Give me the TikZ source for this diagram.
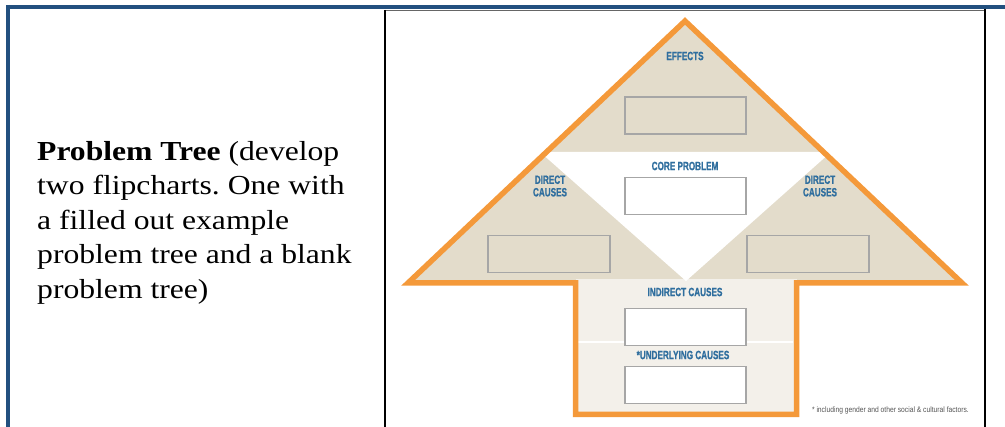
\documentclass[tikz,border=0pt]{standalone}
\usepackage{fontspec}
\setmainfont{Liberation Serif}[FakeStretch=1.15]
\newfontfamily\lblfont{Liberation Sans Bold}[FakeStretch=0.68, FakeBold=0.9]
\newfontfamily\notefont{Liberation Sans}[FakeStretch=0.85]
\frenchspacing

\definecolor{framblue}{HTML}{22507F}
\definecolor{arroworange}{HTML}{F4993A}
\definecolor{treebeige}{HTML}{E3DCCB}
\definecolor{stemfill}{HTML}{F3F0EA}
\definecolor{lblblue}{HTML}{2F6E9E}
\definecolor{boxgray}{HTML}{A6A6A6}
\definecolor{notegray}{HTML}{555555}

\tikzset{
  blank/.style={draw=boxgray, line width=1.8pt, minimum width=121pt,
    minimum height=37pt, inner sep=0pt, outer sep=0pt},
  lbl/.style={text=lblblue, inner sep=0pt, align=center,
    font=\lblfont\fontsize{12}{12.5}\selectfont},
  cellrule/.style={line width=1.4pt, black},
}

\begin{document}
\begin{tikzpicture}[x=1pt, y=-1pt]
\useasboundingbox (0,0) rectangle (1005,427);

% table frame
\draw[framblue, line width=4pt] (6,7) -- (1005,7);
\draw[framblue, line width=4pt] (8,5) -- (8,427);
\draw[black!60, line width=0.8pt] (385,10) -- (985,10);
\draw[cellrule] (385,10) -- (385,427);
\draw[cellrule] (985,9) -- (985,427);

% left cell text
\node[anchor=north west, inner sep=0pt, align=left,
      font=\fontsize{27.5}{34.5}\selectfont] (desc) at (37,141)
  {\textbf{Problem Tree} (develop\\two flipcharts. One with\\a filled out example\\problem tree and a blank\\problem tree)};

% tree background areas
\fill[treebeige] (408,283) -- (685,21) -- (962,283) -- cycle;
\fill[stemfill] (575.5,279) rectangle (796.5,414.5);
\fill[white] (540,152) -- (831,152) -- (686,281) -- cycle;
\draw[white, line width=2pt] (578,342) -- (793,342);

% arrow outline
\draw[arroworange, line width=5.5pt, line join=miter]
  (408,283) -- (685,21) -- (962,283) -- (796.5,283) -- (796.5,414.5)
  -- (575.5,414.5) -- (575.5,283) -- cycle;

% labels
\node[lbl] (effects) at (685,56) {EFFECTS};
\node[lbl] (core) at (685,166) {CORE PROBLEM};
\node[lbl] (directl) at (550,186) {DIRECT\\CAUSES};
\node[lbl] (directr) at (820,186) {DIRECT\\CAUSES};
\node[lbl] (indirect) at (685,292) {INDIRECT CAUSES};
\node[lbl] (underlying) at (683,355) {*UNDERLYING CAUSES};

% blank boxes
\node[blank] (effbox) at (685.5,115.5) {};
\node[blank, fill=white] (corebox) at (685.5,196) {};
\node[blank, minimum width=122pt] (dlbox) at (549,254) {};
\node[blank, minimum width=122pt] (drbox) at (808,254) {};
\node[blank, fill=white] (indbox) at (685.5,327) {};
\node[blank, fill=white] (undbox) at (685.5,385) {};

% footnote
\node[anchor=base east, inner sep=0pt, text=notegray,
      font=\notefont\fontsize{7.9}{9}\selectfont] (note) at (969,413)
  {* including gender and other social \& cultural factors.};
\end{tikzpicture}
\end{document}
